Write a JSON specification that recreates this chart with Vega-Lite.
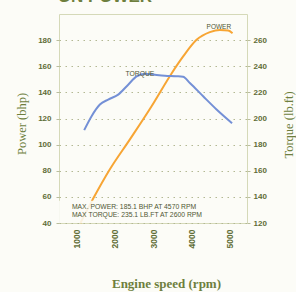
{
  "$schema": "https://vega.github.io/schema/vega-lite/v6.json",
  "width": 188,
  "height": 209,
  "autosize": {"type": "none"},
  "padding": {"left": 59, "top": 14, "right": 49, "bottom": 69},
  "background": "#fcfcf7",
  "config": {
    "view": {"stroke": "#d5d9b8", "strokeWidth": 1},
    "axis": {
      "labelFont": "Liberation Sans",
      "labelFontWeight": "bold",
      "labelFontSize": 8,
      "labelColor": "#5f6d36",
      "titleColor": "#6e7f3e",
      "domain": false,
      "tickColor": "#b9bd9c",
      "tickSize": 3
    }
  },
  "datasets": {
    "power": [
      {"rpm": 1100, "bhp": 40},
      {"rpm": 1138, "bhp": 42.3},
      {"rpm": 1426, "bhp": 58.3},
      {"rpm": 1869, "bhp": 81.1},
      {"rpm": 2392, "bhp": 104},
      {"rpm": 2958, "bhp": 129.4},
      {"rpm": 3480, "bhp": 154.5},
      {"rpm": 3783, "bhp": 167.5},
      {"rpm": 4133, "bhp": 180.2},
      {"rpm": 4480, "bhp": 186.1},
      {"rpm": 4742, "bhp": 187.8},
      {"rpm": 4958, "bhp": 187.3},
      {"rpm": 5073, "bhp": 185.3}
    ],
    "torque": [
      {"rpm": 1198, "lbft": 191.1},
      {"rpm": 1391, "lbft": 201.8},
      {"rpm": 1608, "lbft": 210.7},
      {"rpm": 1825, "lbft": 214.5},
      {"rpm": 2086, "lbft": 218.3},
      {"rpm": 2347, "lbft": 225.9},
      {"rpm": 2567, "lbft": 232.2},
      {"rpm": 2783, "lbft": 234.3},
      {"rpm": 3044, "lbft": 233.5},
      {"rpm": 3305, "lbft": 232.8},
      {"rpm": 3600, "lbft": 232.4},
      {"rpm": 3780, "lbft": 232},
      {"rpm": 3958, "lbft": 227.2},
      {"rpm": 4305, "lbft": 217},
      {"rpm": 4655, "lbft": 206.9},
      {"rpm": 5060, "lbft": 196.4}
    ],
    "box": [{"x1": 540, "x2": 5450, "y1": 40, "y2": 57}],
    "notes": [
      {"rpm": 877, "bhp": 52, "label": "MAX. POWER: 185.1 BHP AT 4570 RPM"},
      {"rpm": 877, "bhp": 45.9, "label": "MAX TORQUE: 235.1 LB.FT AT 2600 RPM"}
    ],
    "plabel": [{"rpm": 4715, "bhp": 189.9, "label": "POWER"}],
    "tlabel": [{"rpm": 2653, "lbft": 234.4, "label": "TORQUE"}],
    "heading": [{"rpm": 1739, "bhp": 209.5, "label": "ON POWER"}]
  },
  "resolve": {"scale": {"y": "independent"}},
  "encoding": {
    "x": {
      "field": "rpm",
      "type": "quantitative",
      "scale": {"domain": [540, 5450], "nice": false, "zero": false},
      "axis": {
        "values": [1000, 2000, 3000, 4000, 5000],
        "format": "d",
        "labelAngle": -90,
        "labelFontSize": 8.5,
        "ticks": false,
        "labelPadding": 6,
        "grid": false,
        "title": "Engine speed (rpm)",
        "titleFont": "Liberation Serif",
        "titleFontWeight": "bold",
        "titleFontSize": 13,
        "titleX": 107,
        "titleY": 64,
        "titleBaseline": "alphabetic",
        "titleAlign": "center"
      }
    }
  },
  "layer": [
    {
      "encoding": {
        "y": {
          "field": "bhp",
          "type": "quantitative",
          "scale": {"domain": [40, 200], "nice": false, "zero": false},
          "axis": {
            "values": [40, 60, 80, 100, 120, 140, 160, 180],
            "grid": true,
            "gridColor": "#b3b893",
            "gridDash": [1.5, 4.5],
            "gridWidth": 1.2,
            "labelPadding": 5,
            "title": "Power (bhp)",
            "titleFont": "Liberation Serif",
            "titleFontWeight": "normal",
            "titleFontSize": 12.5,
            "titleAngle": -90,
            "titleX": -37.3,
            "titleY": 109.5,
            "titleAlign": "center",
            "titleBaseline": "middle"
          }
        }
      },
      "layer": [
        {
          "data": {"name": "power"},
          "mark": {"type": "line", "color": "#f7a534", "strokeWidth": 2, "interpolate": "monotone"}
        },
        {
          "data": {"name": "box"},
          "mark": {"type": "rect", "fill": "#fcfcf7", "opacity": 0.88},
          "encoding": {
            "x": {"field": "x1", "type": "quantitative"},
            "x2": {"field": "x2"},
            "y": {"field": "y1", "type": "quantitative"},
            "y2": {"field": "y2"}
          }
        },
        {
          "data": {"name": "notes"},
          "mark": {"type": "text", "align": "left", "baseline": "middle", "font": "Liberation Sans", "fontSize": 6.8, "color": "#4f5633"},
          "encoding": {"text": {"field": "label"}}
        },
        {
          "data": {"name": "plabel"},
          "mark": {"type": "text", "align": "center", "baseline": "middle", "font": "Liberation Sans", "fontSize": 6.5, "color": "#4f5633"},
          "encoding": {"text": {"field": "label"}}
        },
        {
          "data": {"name": "heading"},
          "mark": {"type": "text", "align": "center", "baseline": "alphabetic", "font": "Liberation Sans", "fontWeight": "bold", "fontSize": 17, "color": "#6e7f3e"},
          "encoding": {"text": {"field": "label"}}
        }
      ]
    },
    {
      "encoding": {
        "y": {
          "field": "lbft",
          "type": "quantitative",
          "scale": {"domain": [120, 280], "nice": false, "zero": false},
          "axis": {
            "orient": "right",
            "values": [120, 140, 160, 180, 200, 220, 240, 260],
            "grid": false,
            "labelPadding": 3,
            "title": "Torque (lb.ft)",
            "titleFont": "Liberation Serif",
            "titleFontWeight": "normal",
            "titleFontSize": 12.5,
            "titleAngle": 270,
            "titleX": 41,
            "titleY": 110.5,
            "titleAlign": "center",
            "titleBaseline": "middle"
          }
        }
      },
      "layer": [
        {
          "data": {"name": "torque"},
          "mark": {"type": "line", "color": "#7490d6", "strokeWidth": 2, "interpolate": "monotone"}
        },
        {
          "data": {"name": "tlabel"},
          "mark": {"type": "text", "align": "center", "baseline": "middle", "font": "Liberation Sans", "fontSize": 6.8, "color": "#4f5633"},
          "encoding": {"text": {"field": "label"}}
        }
      ]
    }
  ]
}
